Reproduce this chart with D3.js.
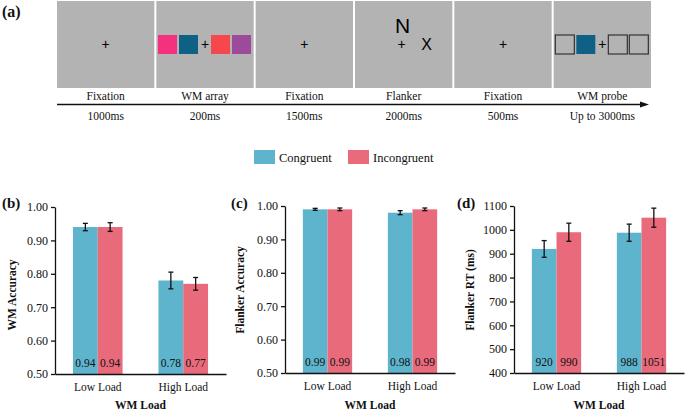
<!DOCTYPE html>
<html>
<head>
<meta charset="utf-8">
<script src="https://cdn.jsdelivr.net/npm/d3@7/dist/d3.min.js"></script>
<style>
  body { margin: 0; background: #fff; }
  svg { display: block; }
</style>
</head>
<body>
<script>
// ---- data ----
var steps = ["Fixation", "WM array", "Fixation", "Flanker", "Fixation", "WM probe"];
var durations = ["1000ms", "200ms", "1500ms", "2000ms", "500ms", "Up to 3000ms"];
var arrayColors = ["#f5307e", "#0e6185", "#f6474d", "#9e4a9b"];
var probeColors = ["none", "#0e6185", "none", "none"];

var conditions = ["Congruent", "Incongruent"];
var loads = ["Low Load", "High Load"];

var wmAccCong = [0.94, 0.78], wmAccInc = [0.94, 0.77];
var wmAccCongErr = [0.011, 0.025], wmAccIncErr = [0.013, 0.019];
var flAccCong = [0.99, 0.98], flAccInc = [0.99, 0.99];
var flAccCongErr = [0.003, 0.006], flAccIncErr = [0.004, 0.004];
var rtCong = [920, 988], rtInc = [990, 1051];
var rtCongErr = [35, 36], rtIncErr = [38, 40];

var accTicks = [0.5, 0.6, 0.7, 0.8, 0.9, 1.0];
var rtTicks = [400, 500, 600, 700, 800, 900, 1000, 1100];

var colors = {"Congruent": "#5eb4cc", "Incongruent": "#e86a7b"};

const SERIF = "'Liberation Serif', 'Times New Roman', serif";
const SANS = "'Liberation Sans', Arial, sans-serif";

var W = 685, H = 412;
var svg = d3.select("body").append("svg")
  .attr("width", W).attr("height", H)
  .attr("font-family", SERIF)
  .style("font-family", SERIF);

function label(g, x, y, txt, size, bold) {
  return g.append("text")
    .attr("x", x).attr("y", y)
    .style("font-family", SERIF)
    .style("font-size", size + "px")
    .style("font-weight", bold ? "bold" : "normal")
    .attr("fill", "#111")
    .text(txt);
}

// ---- panel (a): trial sequence ----
var frameX = d3.scaleBand()
  .domain(d3.range(steps.length))
  .range([57, 651])
  .paddingInner(0.02);
var frameTop = 1, frameH = 87, sq = 19, sqY = 35;
var slotOffsets = [-47, -26, 6, 27]; // left edge of each square from frame centre

label(svg, 2, 17, "(a)", 16, true);

var frames = svg.selectAll(".frame")
  .data(steps).enter()
  .append("g")
  .attr("class", "frame")
  .attr("transform", function(d, i) { return "translate(" + frameX(i) + ",0)"; });

frames.append("rect")
  .attr("y", frameTop)
  .attr("width", frameX.bandwidth())
  .attr("height", frameH)
  .attr("fill", "#b3b3b3");

frames.each(function(d, i) {
  var g = d3.select(this), cx = frameX.bandwidth() / 2;
  label(g, cx, 100, d, 11.5).attr("text-anchor", "middle");
  label(g, cx, 120, durations[i], 11.5).attr("text-anchor", "middle");
});

function cross(g, x, y) {
  g.append("text")
    .attr("x", x).attr("y", y + 5)
    .attr("text-anchor", "middle")
    .style("font-family", SANS)
    .style("font-size", "14px")
    .text("+");
}

frames.each(function(d, i) {
  var g = d3.select(this), cx = frameX.bandwidth() / 2;
  if (d == "Fixation") cross(g, cx, 44);
  if (d == "WM array" || d == "WM probe") {
    var cols = d == "WM array" ? arrayColors : probeColors;
    g.selectAll(".sq")
      .data(cols).enter()
      .append("rect")
      .attr("x", function(c, j) { return cx + slotOffsets[j]; })
      .attr("y", sqY)
      .attr("width", sq).attr("height", sq)
      .attr("fill", function(c) { return c; })
      .attr("stroke", function(c) { return c == "none" ? "#333" : "none"; })
      .attr("stroke-width", 1.2);
    cross(g, cx, 44);
  }
  if (d == "Flanker") {
    g.append("text").attr("x", cx - 1).attr("y", 33)
      .attr("text-anchor", "middle")
      .style("font-family", SANS)
      .style("font-size", "21px").text("N");
    cross(g, cx - 2, 44);
    g.append("text").attr("x", cx + 23).attr("y", 50)
      .attr("text-anchor", "middle")
      .style("font-family", SANS)
      .style("font-size", "16px").text("X");
  }
});

// time arrow
svg.append("line")
  .attr("x1", 57).attr("x2", 642)
  .attr("y1", 104.5).attr("y2", 104.5)
  .attr("stroke", "#111").attr("stroke-width", 1.3);
svg.append("path")
  .attr("d", "M640,101.5 L649,104.5 L640,107.5 Z")
  .attr("fill", "#111");

// ---- legend ----
var legendX = [254, 348];
var legend = svg.selectAll(".legend")
  .data(conditions).enter()
  .append("g")
  .attr("class", "legend")
  .attr("transform", function(d, i) { return "translate(" + legendX[i] + ",150)"; });
legend.append("rect")
  .attr("width", 21).attr("height", 14)
  .attr("fill", function(d) { return colors[d]; });
legend.each(function(d) { label(d3.select(this), 25, 11.5, d, 12.5); });

// ---- bar panels ----
function barPanel(opts) {
  var g = svg.append("g");
  var x = d3.scaleBand().domain(loads).range([opts.x0, opts.x1]);
  var xSub = d3.scaleBand().domain(conditions)
    .range([x.bandwidth() * 0.21, x.bandwidth() * 0.79]);
  var y = d3.scaleLinear().domain(opts.domain).range([opts.yBot, opts.yTop]);

  var rows = [];
  loads.forEach(function(l, i) {
    rows.push({load: l, cond: "Congruent", v: opts.cong[i], e: opts.congErr[i]});
    rows.push({load: l, cond: "Incongruent", v: opts.inc[i], e: opts.incErr[i]});
  });

  g.selectAll(".bar")
    .data(rows).enter()
    .append("rect")
    .attr("class", "bar")
    .attr("x", function(d) { return x(d.load) + xSub(d.cond); })
    .attr("y", function(d) { return y(d.v); })
    .attr("width", xSub.bandwidth())
    .attr("height", function(d) { return y(opts.domain[0]) - y(d.v); })
    .attr("fill", function(d) { return colors[d.cond]; });

  // error bars
  var eb = g.selectAll(".err")
    .data(rows).enter()
    .append("g")
    .attr("class", "err")
    .attr("stroke", "#111")
    .attr("stroke-width", 1.3);
  function cx(d) { return x(d.load) + xSub(d.cond) + xSub.bandwidth() / 2; }
  eb.append("line")
    .attr("x1", cx).attr("x2", cx)
    .attr("y1", function(d) { return y(d.v + d.e); })
    .attr("y2", function(d) { return y(d.v - d.e); });
  [1, -1].forEach(function(s) {
    eb.append("line")
      .attr("x1", function(d) { return cx(d) - 2.5; })
      .attr("x2", function(d) { return cx(d) + 2.5; })
      .attr("y1", function(d) { return y(d.v + s * d.e); })
      .attr("y2", function(d) { return y(d.v + s * d.e); });
  });

  // value labels
  rows.forEach(function(d) {
    label(g, cx(d), opts.yBot - 7, opts.fmt(d.v), 11.5).attr("text-anchor", "middle");
  });

  // axes
  var yAxis = g.append("g")
    .attr("transform", "translate(" + opts.x0 + ",0)")
    .call(d3.axisLeft(y).tickValues(opts.ticks).tickFormat(opts.fmt)
      .tickSize(4).tickSizeOuter(0));
  yAxis.attr("font-family", SERIF);
  yAxis.selectAll("text")
    .style("font-family", SERIF)
    .style("font-size", "12px").attr("fill", "#111");
  yAxis.selectAll("line, path").attr("stroke", "#111").attr("stroke-width", 1.3);

  var xAxis = g.append("g")
    .attr("transform", "translate(0," + opts.yBot + ")")
    .call(d3.axisBottom(x).tickSize(0).tickPadding(9));
  xAxis.attr("font-family", SERIF);
  xAxis.selectAll("text")
    .style("font-family", SERIF)
    .style("font-size", "11.5px").attr("fill", "#111");
  xAxis.selectAll("path").attr("stroke", "#111").attr("stroke-width", 1.3);

  label(g, (opts.x0 + opts.x1) / 2, 409, "WM Load", 11.5, true)
    .attr("text-anchor", "middle");

  label(g, 0, 0, opts.yLabel, 11.5, true)
    .attr("transform", "translate(" + opts.labelX + "," + opts.labelY + ")rotate(-90)")
    .attr("text-anchor", "middle");

  label(g, opts.letterX, 208, opts.letter, 15, true);
}

var fmt2 = d3.format(".2f"), fmt0 = d3.format("d");

barPanel({x0: 55, x1: 226, yTop: 207, yBot: 374, domain: [0.5, 1.0], ticks: accTicks, fmt: fmt2,
  cong: wmAccCong, inc: wmAccInc, congErr: wmAccCongErr, incErr: wmAccIncErr,
  yLabel: "WM Accuracy", labelX: 16, labelY: 295, letter: "(b)", letterX: 2});
barPanel({x0: 285, x1: 455, yTop: 206, yBot: 373, domain: [0.5, 1.0], ticks: accTicks, fmt: fmt2,
  cong: flAccCong, inc: flAccInc, congErr: flAccCongErr, incErr: flAccIncErr,
  yLabel: "Flanker Accuracy", labelX: 244, labelY: 290, letter: "(c)", letterX: 231});
barPanel({x0: 514, x1: 684, yTop: 206, yBot: 373, domain: [400, 1100], ticks: rtTicks, fmt: fmt0,
  cong: rtCong, inc: rtInc, congErr: rtCongErr, incErr: rtIncErr,
  yLabel: "Flanker RT (ms)", labelX: 474, labelY: 290, letter: "(d)", letterX: 457});
</script>
</body>
</html>
